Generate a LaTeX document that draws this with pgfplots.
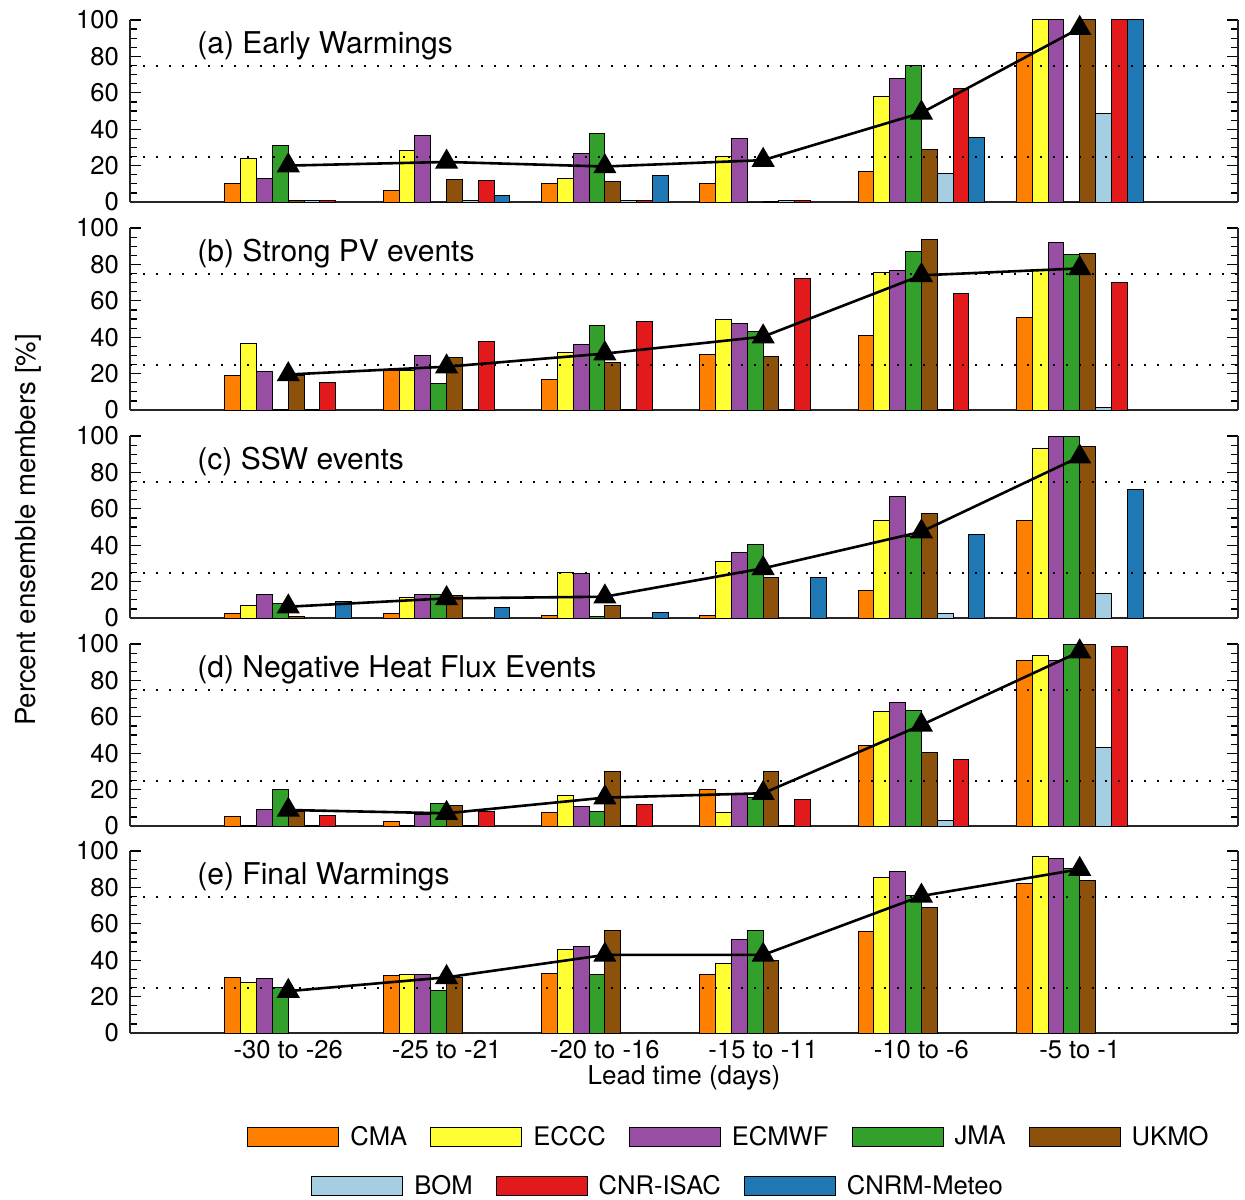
\documentclass[border=0pt]{standalone}
\usepackage{fontspec}
\setmainfont{TeX Gyre Heros}
\usepackage{pgfplots}
\usepackage{pgfplotstable}
\pgfplotsset{compat=1.18}

\definecolor{cma}{HTML}{FF7F00}
\definecolor{eccc}{HTML}{FFFF33}
\definecolor{ecmwf}{HTML}{984EA3}
\definecolor{jma}{HTML}{33A02C}
\definecolor{ukmo}{HTML}{8C510A}
\definecolor{bom}{HTML}{A6CEE3}
\definecolor{cnr}{HTML}{E31A1C}
\definecolor{cnrm}{HTML}{1F78B4}

\pgfplotstableread{
x cma eccc ecmwf jma ukmo bom cnr cnrm mean
1 10 24 13 31 1 1 1 nan 20
2 6.5 28.5 36.5 0 12.5 1 12 3.3 22
3 10 13 26.7 37.4 11 1 1 14.3 19.5
4 10 25 35 0 0.5 1 1 nan 23
5 16.5 58 68 75 29 15.4 62.6 35.7 49
6 82 100 100 0 100 48.7 100 100 95.5
}\tabA
\pgfplotstableread{
x cma eccc ecmwf jma ukmo bom cnr cnrm mean
1 19 36.6 21 0.5 19.2 0.5 15 nan 19.5
2 21.6 21.6 29.7 14.8 28.6 0.5 37.4 nan 23.8
3 17 31.5 36 46.7 26 0.5 48.4 nan 31
4 30.6 49.5 47.4 43.2 29.3 0.5 72 nan 40.3
5 40.7 75.5 76.7 87 93.8 0.5 64 nan 74
6 51 77 91.8 85.5 86 1.6 70.3 nan 77.8
}\tabB
\pgfplotstableread{
x cma eccc ecmwf jma ukmo bom cnr cnrm mean
1 2.4 7 12.8 8 1 nan nan 9 6.2
2 2.4 11 13 13 12.6 nan nan 5.7 10.8
3 1.6 25 24.5 1 7 nan nan 3.3 11.7
4 1.6 31 36 40.5 22.5 nan nan 22.5 27.3
5 15 53.7 66.7 44.9 57.5 2.4 nan 46 47.4
6 53.5 93.4 100 100 94.3 13.6 nan 70.7 88.6
}\tabC
\pgfplotstableread{
x cma eccc ecmwf jma ukmo bom cnr cnrm mean
1 5.1 0.5 9.2 20.3 8 0.5 6 nan 8.8
2 2.4 0.5 6.6 12.3 11.4 0.5 8.2 nan 7
3 7.7 16.8 11 8 29.7 0.5 12 nan 15.6
4 19.8 7.3 17.4 15.4 30 0.5 14.5 nan 18
5 44.5 63 67.8 63.7 40.5 2.9 36.4 nan 55.5
6 90.8 93.8 90.8 100 100 43.2 98.9 nan 95.8
}\tabD
\pgfplotstableread{
x cma eccc ecmwf jma ukmo bom cnr cnrm mean
1 30.4 27.8 29.7 25 nan nan nan nan 23
2 31.7 32.4 32 23.3 30.6 nan nan nan 30.6
3 32.6 46 47.3 32.4 56.6 nan nan nan 42.9
4 31.9 38.3 51.5 56.2 40.1 nan nan nan 42.9
5 55.7 85.2 89 75.8 69 nan nan nan 75.3
6 82 96.9 95.8 90.5 83.9 nan nan nan 90
}\tabE

\newcommand{\fs}{\fontsize{12.8}{14}\selectfont}

\pgfplotsset{
  panel/.style={
    scale only axis, width=554pt, height=91pt,
    xmin=0, xmax=7, ymin=0, ymax=100,
    axis x line*=bottom,
    xtick={1,...,6}, xticklabels={}, xtick style={draw=none},
    ytick={0,20,...,100}, minor y tick num=3,
    tick align=inside,
    major tick length=5.5pt, minor tick length=3.5pt,
    ytick style={black, line width=0.6pt},
    axis line style={black!85, line width=0.8pt},
    ticklabel style={font=\fs},
    /pgf/number format/assume math mode=true,
    yticklabel style={xshift=-2pt},
    clip=false,
  },
  bb/.style={ybar, bar width=0.1, fill=#1, draw=black, line width=0.5pt, forget plot},
  lp/.style={fill=#1, draw=black, line width=0.5pt,
    legend image code/.code={\draw[##1] (0pt,-4.6pt) rectangle (45.5pt,4.6pt);}},
  legstyle/.style={draw=none, fill=none, inner sep=0pt, font=\fs,
    /tikz/every odd column/.append style={column sep=3.5pt},
    /tikz/every even column/.append style={column sep=9.5pt}},
}

\newcommand{\paneltitle}[1]{\node[anchor=west, inner sep=0pt, font=\fontsize{15}{17}\selectfont] at (rel axis cs:0.0605,0.86) {#1};}

\newcommand{\panelplots}[1]{%
  \addplot[bb=cma, bar shift=-0.35] table[x=x,y=cma]{#1};
  \addplot[bb=eccc, bar shift=-0.25] table[x=x,y=eccc]{#1};
  \addplot[bb=ecmwf, bar shift=-0.15] table[x=x,y=ecmwf]{#1};
  \addplot[bb=jma, bar shift=-0.05] table[x=x,y=jma]{#1};
  \addplot[bb=ukmo, bar shift=0.05] table[x=x,y=ukmo]{#1};
  \addplot[bb=bom, bar shift=0.15] table[x=x,y=bom]{#1};
  \addplot[bb=cnr, bar shift=0.25] table[x=x,y=cnr]{#1};
  \addplot[bb=cnrm, bar shift=0.35] table[x=x,y=cnrm]{#1};
  \addplot[forget plot, black, line width=1pt, dash pattern=on 1.1pt off 5.4pt] coordinates {(0,25) (7,25)};
  \addplot[forget plot, black, line width=1pt, dash pattern=on 1.1pt off 5.4pt] coordinates {(0,75) (7,75)};
  \addplot[forget plot, black, line width=1.3pt, mark=triangle*, mark size=5.4pt, mark options={solid}] table[x=x,y=mean]{#1};
}

\begin{document}
\begin{tikzpicture}
\useasboundingbox (0,0) rectangle (622.5pt,-599.5pt);

\node[rotate=90, font=\fontsize{13.8}{15}\selectfont] at (14pt,-265pt) {Percent ensemble members [\%]};

\begin{axis}[panel, at={(65pt,-10pt)}, anchor=north west]
\panelplots{\tabA}
\paneltitle{(a) Early Warmings}
\end{axis}

\begin{axis}[panel, at={(65pt,-114pt)}, anchor=north west]
\panelplots{\tabB}
\paneltitle{(b) Strong PV events}
\end{axis}

\begin{axis}[panel, at={(65pt,-218pt)}, anchor=north west]
\panelplots{\tabC}
\paneltitle{(c) SSW events}
\end{axis}

\begin{axis}[panel, at={(65pt,-322pt)}, anchor=north west,
  legend columns=3,
  legend style={legstyle, at={(0.1634,-1.978)}, anchor=west},
  legend cell align=left]
\panelplots{\tabD}
\paneltitle{(d) Negative Heat Flux Events}
\addlegendimage{lp=bom}\addlegendentry{BOM}
\addlegendimage{lp=cnr}\addlegendentry{CNR-ISAC}
\addlegendimage{lp=cnrm}\addlegendentry{CNRM-Meteo}
\end{axis}

\begin{axis}[panel, at={(65pt,-425.5pt)}, anchor=north west,
  xticklabels={-30 to -26,-25 to -21,-20 to -16,-15 to -11,-10 to -6,-5 to -1},
  xlabel={Lead time (days)},
  xlabel style={font=\fontsize{13}{15}\selectfont, at={(axis description cs:0.5,-0.247)}, anchor=center},
  legend columns=5,
  legend style={legstyle, at={(0.1056,-0.5714)}, anchor=west},
  legend cell align=left]
\panelplots{\tabE}
\paneltitle{(e) Final Warmings}
\addlegendimage{lp=cma}\addlegendentry{CMA}
\addlegendimage{lp=eccc}\addlegendentry{ECCC}
\addlegendimage{lp=ecmwf}\addlegendentry{ECMWF}
\addlegendimage{lp=jma}\addlegendentry{JMA}
\addlegendimage{lp=ukmo}\addlegendentry{UKMO}
\end{axis}
\end{tikzpicture}
\end{document}
